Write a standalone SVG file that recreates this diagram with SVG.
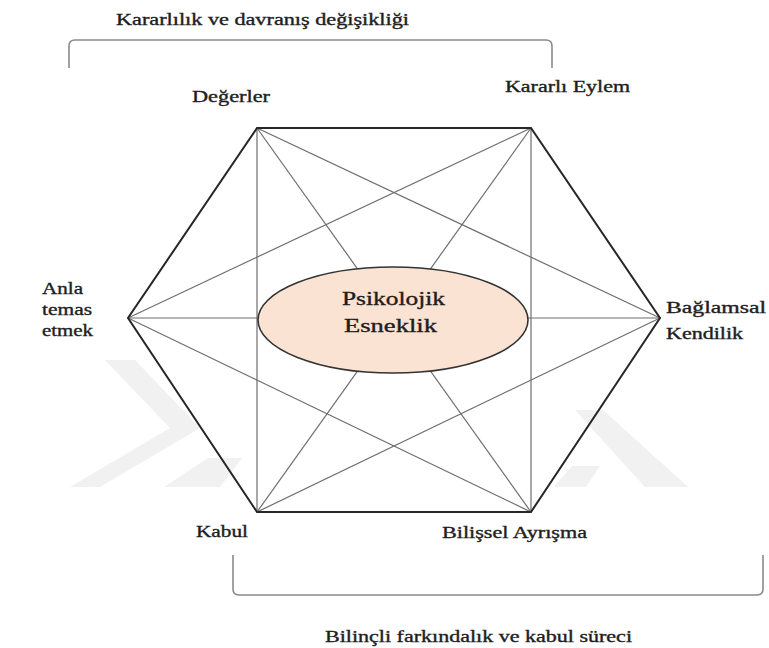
<svg xmlns="http://www.w3.org/2000/svg" width="769" height="648" viewBox="0 0 769 648">
<style>
.wm{fill:#f1f1f1;stroke:none}
.edge{stroke:#262626;stroke-width:2;fill:none;stroke-linejoin:miter}
.diag{stroke:#6e6e6e;stroke-width:1.2;fill:none}
.br{stroke:#8a8a8a;stroke-width:1.6;fill:none}
.t{font-family:"Liberation Serif","Times New Roman",serif;fill:#1e1e1e;stroke:#1e1e1e;stroke-width:0.35;font-size:16px}
.tc{font-family:"Liberation Serif","Times New Roman",serif;fill:#1e1e1e;stroke:#1e1e1e;stroke-width:0.35;font-size:18px}
</style>
<rect width="769" height="648" fill="#ffffff"/>
<g id="watermark">
<polygon class="wm" points="105,360 135,360 200,428 100,487 70,487 170,428"/>
<polygon class="wm" points="164,487 220,487 242,458 208,458"/>
<polygon class="wm" points="575,410 603,410 688,487 645,487"/>
<polygon class="wm" points="554,487 586,487 600,466 572,466"/>
</g>
<g id="brackets">
<path class="br" d="M69,68 L69,46 Q69,40 75,40 L546,40 Q552,40 552,46 L552,68"/>
<path class="br" d="M233,555 L233,589 Q233,595 239,595 L757,595 Q763,595 763,589 L763,555"/>
</g>
<g id="connectors">
<line class="diag" x1="257" y1="128" x2="257" y2="512"/>
<line class="diag" x1="531" y1="128" x2="531" y2="512"/>
<line class="diag" x1="128" y1="318" x2="660" y2="318"/>
<line class="diag" x1="257" y1="128" x2="660" y2="318"/>
<line class="diag" x1="257" y1="128" x2="531" y2="512"/>
<line class="diag" x1="531" y1="128" x2="128" y2="318"/>
<line class="diag" x1="531" y1="128" x2="257" y2="512"/>
<line class="diag" x1="128" y1="318" x2="531" y2="512"/>
<line class="diag" x1="660" y1="318" x2="257" y2="512"/>
<polygon class="edge" points="257,128 531,128 660,318 531,512 257,512 128,318"/>
</g>
<g id="center">
<ellipse cx="393" cy="320" rx="135" ry="53" fill="#fbe3d3" stroke="#333333" stroke-width="1.6"/>
<text class="tc" x="342" y="305" textLength="103" lengthAdjust="spacingAndGlyphs">Psikolojik</text>
<text class="tc" x="344" y="332" textLength="93" lengthAdjust="spacingAndGlyphs">Esneklik</text>
</g>
<g id="title-top"><text class="t" x="116" y="25" textLength="293" lengthAdjust="spacingAndGlyphs">Kararlılık ve davranış değişikliği</text></g>
<g id="node-degerler"><text class="t" x="192" y="102" textLength="78" lengthAdjust="spacingAndGlyphs">Değerler</text></g>
<g id="node-kararli"><text class="t" x="505" y="92" textLength="125" lengthAdjust="spacingAndGlyphs">Kararlı Eylem</text></g>
<g id="node-anla">
<text class="t" x="42" y="294" textLength="41" lengthAdjust="spacingAndGlyphs">Anla</text>
<text class="t" x="42" y="315" textLength="50" lengthAdjust="spacingAndGlyphs">temas</text>
<text class="t" x="42" y="336" textLength="51" lengthAdjust="spacingAndGlyphs">etmek</text>
</g>
<g id="node-baglamsal">
<text class="t" x="666" y="313" textLength="100" lengthAdjust="spacingAndGlyphs">Bağlamsal</text>
<text class="t" x="666" y="339" textLength="77" lengthAdjust="spacingAndGlyphs">Kendilik</text>
</g>
<g id="node-kabul"><text class="t" x="196" y="537" textLength="52" lengthAdjust="spacingAndGlyphs">Kabul</text></g>
<g id="node-bilissel"><text class="t" x="442" y="538" textLength="145" lengthAdjust="spacingAndGlyphs">Bilişsel Ayrışma</text></g>
<g id="title-bottom"><text class="t" x="325" y="642" textLength="307" lengthAdjust="spacingAndGlyphs">Bilinçli farkındalık ve kabul süreci</text></g>
</svg>
